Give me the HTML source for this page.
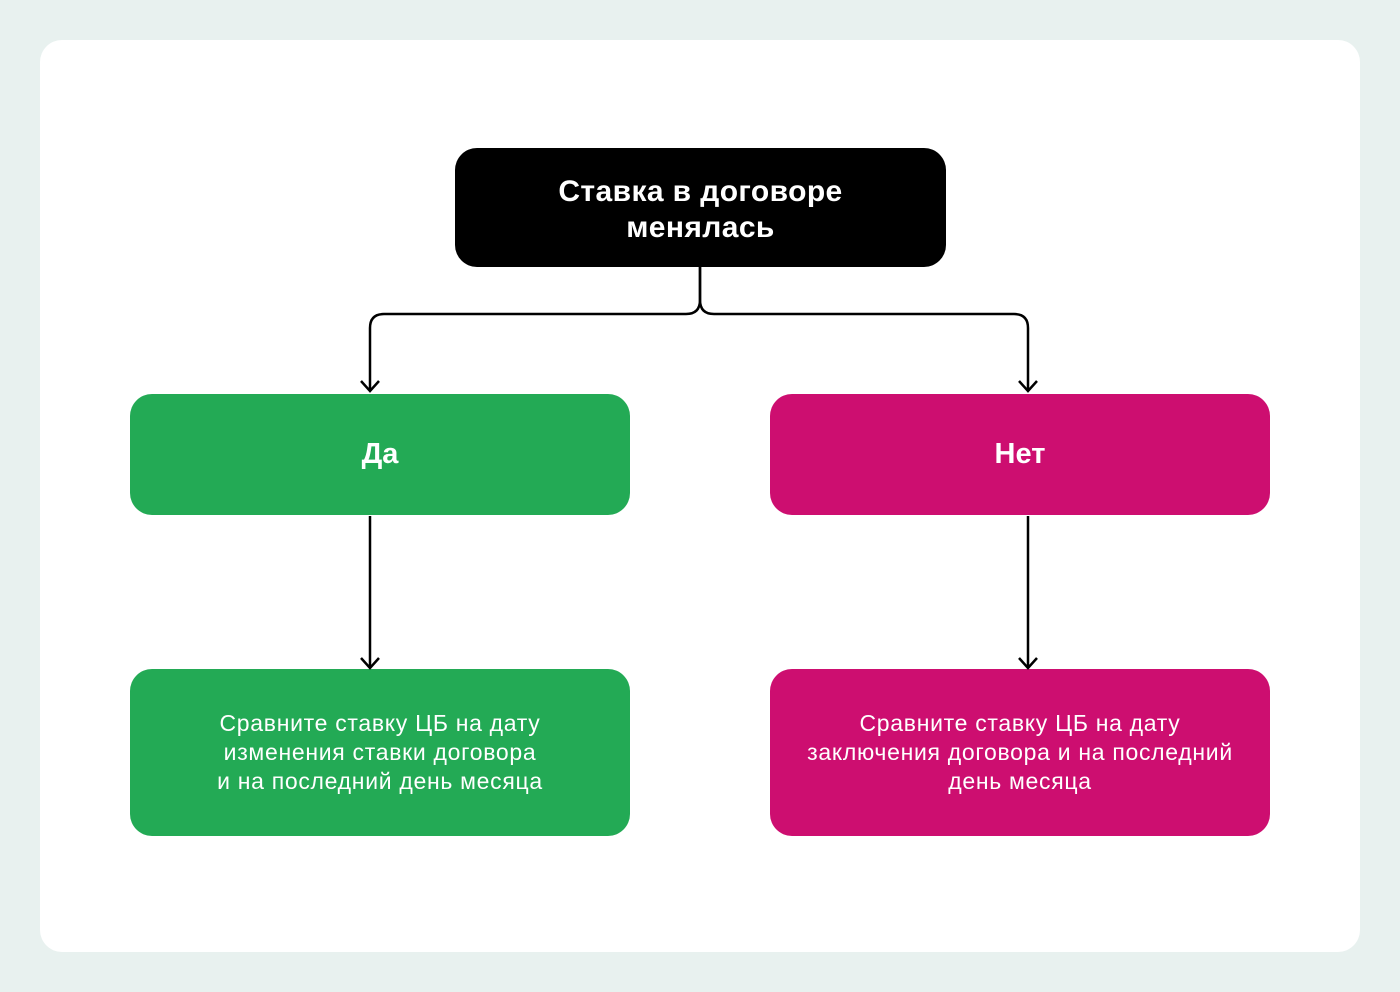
<!DOCTYPE html>
<html><head><meta charset="utf-8"><style>
html,body{margin:0;padding:0}
body{width:1400px;height:992px;background:#e8f1ef;position:relative;overflow:hidden;font-family:"Liberation Sans",sans-serif}
.card{position:absolute;left:40px;top:40px;width:1320px;height:912px;background:#fff;border-radius:22px}
.box{position:absolute;display:flex;align-items:center;justify-content:center;text-align:center;color:#fff;box-sizing:border-box}
svg{position:absolute;left:0;top:0}
</style></head><body>
<div class="card"></div>
<div class="box" style="left:455px;top:148px;width:491px;height:119px;background:#000;border-radius:22px;font-size:30px;line-height:36px;font-weight:bold;letter-spacing:0.4px;padding-top:4px;">Ставка в договоре<br>менялась</div>
<div class="box" style="left:130px;top:394px;width:500px;height:121px;background:#23aa55;border-radius:22px;font-size:29px;font-weight:bold;">Да</div>
<div class="box" style="left:770px;top:394px;width:500px;height:121px;background:#cd0e70;border-radius:22px;font-size:29px;font-weight:bold;">Нет</div>
<div class="box" style="left:130px;top:669px;width:500px;height:167px;background:#23aa55;border-radius:22px;font-size:23px;line-height:29px;letter-spacing:0.7px;">Сравните ставку ЦБ на дату<br>изменения ставки договора<br>и на последний день месяца</div>
<div class="box" style="left:770px;top:669px;width:500px;height:167px;background:#cd0e70;border-radius:22px;font-size:23px;line-height:29px;letter-spacing:0.7px;">Сравните ставку ЦБ на дату<br>заключения договора и на последний<br>день месяца</div>
<svg width="1400" height="992" fill="none" stroke="#000" stroke-width="2.5">
<path d="M700 267 V300 Q700 314 686 314 H384 Q370 314 370 328 V390"/>
<path d="M700 267 V300 Q700 314 714 314 H1014 Q1028 314 1028 328 V390"/>
<path d="M361 381 L370 391 L379 381"/>
<path d="M1019 381 L1028 391 L1037 381"/>
<path d="M370 516 V667"/>
<path d="M361 658 L370 668 L379 658"/>
<path d="M1028 516 V667"/>
<path d="M1019 658 L1028 668 L1037 658"/>
</svg>
</body></html>
